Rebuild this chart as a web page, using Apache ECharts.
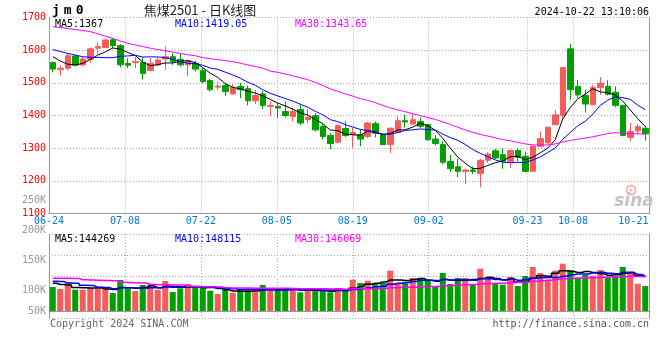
<!DOCTYPE html>
<html><head><meta charset="utf-8">
<script src="https://cdn.jsdelivr.net/npm/echarts@6/dist/echarts.min.js"></script>
<style>html,body{margin:0;padding:0;background:#fff}#c{width:660px;height:360px}</style>
</head><body><div id="c"></div><script>
const dates = ['06-24','06-25','06-26','06-27','06-28',
'07-01','07-02','07-03','07-04','07-05','07-08','07-09','07-10','07-11','07-12',
'07-15','07-16','07-17','07-18','07-19','07-22','07-23','07-24','07-25','07-26',
'07-29','07-30','07-31','08-01','08-02','08-05','08-06','08-07','08-08','08-09',
'08-12','08-13','08-14','08-15','08-16','08-19','08-20','08-21','08-22','08-23',
'08-26','08-27','08-28','08-29','08-30','09-02','09-03','09-04','09-05','09-06',
'09-09','09-10','09-11','09-12','09-13','09-18','09-19','09-20',
'09-23','09-24','09-25','09-26','09-27','09-30',
'10-08','10-09','10-10','10-11','10-14','10-15','10-16','10-17','10-18','10-21','10-22'];

const openP = [1562,1540,1545,1582,1555,1572,1606,1608,1632,1614,
1559,1562,1563,1538,1555,1573,1580,1572,1555,1560,
1537,1507,1487,1492,1466,1489,1482,1445,1466,1428,
1428,1412,1397,1418,1387,1399,1366,1339,1318,1360,
1341,1341,1336,1375,1341,1311,1349,1384,1374,1382,
1372,1328,1311,1259,1243,1229,1233,1222,1263,1292,
1280,1260,1293,1275,1229,1306,1316,1372,1400,1604,
1489,1461,1433,1486,1489,1471,1431,1333,1353,1361];
const closeP = [1542,1545,1583,1554,1573,1604,1611,1631,1614,1555,
1554,1565,1529,1560,1570,1580,1565,1555,1568,1542,
1504,1479,1490,1473,1486,1479,1445,1461,1431,1431,
1423,1400,1412,1377,1394,1356,1336,1314,1369,1339,
1348,1328,1377,1346,1311,1361,1384,1380,1387,1367,
1326,1314,1257,1237,1229,1233,1229,1263,1282,1270,
1260,1293,1272,1229,1306,1329,1364,1402,1547,1479,
1463,1435,1486,1499,1465,1431,1339,1351,1366,1344];
const lowP = [1532,1522,1538,1553,1550,1560,1588,1606,1606,1547,
1545,1545,1510,1535,1550,1540,1555,1550,1520,1535,
1499,1474,1478,1460,1465,1453,1431,1435,1420,1399,
1392,1394,1382,1370,1377,1351,1326,1297,1315,1334,
1302,1306,1331,1333,1309,1285,1346,1363,1372,1362,
1323,1308,1250,1227,1211,1190,1221,1180,1255,1267,
1237,1239,1260,1226,1227,1303,1314,1370,1392,1448,
1453,1409,1433,1463,1461,1425,1336,1321,1341,1323];
const highP = [1565,1553,1590,1585,1580,1608,1623,1634,1636,1618,
1575,1580,1578,1577,1578,1612,1590,1590,1572,1568,
1545,1512,1504,1499,1496,1499,1491,1479,1475,1443,
1438,1443,1423,1433,1420,1407,1374,1346,1374,1382,
1362,1356,1380,1382,1346,1364,1397,1402,1407,1394,
1374,1341,1321,1280,1268,1237,1244,1267,1287,1298,
1300,1295,1300,1290,1308,1351,1367,1417,1547,1619,
1509,1479,1494,1518,1508,1489,1433,1377,1374,1367];

const volume = [102000,93500,119000,90500,90500,97800,93500,97800,76500,131800,
94800,85000,110500,113500,90500,127500,80800,96500,114800,102000,
100700,86300,72300,89300,77800,93500,88000,83700,110500,93500,
90500,90500,88000,79500,93500,83700,83700,79500,97800,89300,
133000,119000,128800,119000,119000,171300,119000,119000,140300,140300,
133000,102000,161500,114800,140300,140300,114800,179800,140300,114800,
111800,144500,106300,148800,187000,161500,133000,171300,201000,174000,
140300,153000,150000,174000,143000,148800,187000,167000,116000,106300];

// Moving-average values before enough bars exist in the window
const ma5Head = [1580,1567,1557,1555];
const ma10Head = [1602,1596,1590,1585,1580,1578,1578,1577,1577];
const ma30Head = [1672,1669,1666,1663,1660,1657,1650,1643,1636,1628,1621,1616,1611,1606,1602,1598,1594,1590,1586,1583,1577,1574,1571,1568,1565,1560,1555,1550,1545];
const volMa5Head = [118000,113000,110000,100000];
const volMa10Head = [126000,125000,119000,118000,109000,108000,101000,100000,95000];
const volMa30Head = [139000,139000,139000,138000,133000,132000,131000,130000,129000,122000,121000,120000,119000,113000,112000,112000,111000,110000,105000,104000,103000,103000,102000,99000,98000,98000,98000,97000,97000];

const priceTicks = {min:1100, max:1700, step:100};
const labelDates = ['06-24','07-08','07-22','08-05','08-19','09-02','09-23','10-08','10-21'];
const gridDates = ['07-08','07-22','08-05','08-19','09-02','09-23','10-08'];
const volTickLabels = ['250K','200K','150K','100K','50K'];
const priceMaLabels = ['MA5:1367','MA10:1419.05','MA30:1343.65'];
const volMaLabels = ['MA5:144269','MA10:148115','MA30:146069'];
const titleText = '焦煤2501 - 日K线图';
const codeText = 'jm0';
const timeText = '2024-10-22 13:10:06';

function movingAvg(src, n, head){
  return src.map((v,i)=>{
    if(i < n-1) return head[i];
    let s=0; for(let k=i-n+1;k<=i;k++) s+=src[k];
    return +(s/n).toFixed(2);
  });
}

const UP='#f65c5c', DOWN='#00a000';
const MONO='"DejaVu Sans Mono", monospace';
const dotted={color:'#aaaaaa', type:[1,2], width:1};

const candles = dates.map((d,i)=>[openP[i],closeP[i],lowP[i],highP[i]]);
const volBars = volume.map((v,i)=>({value:v, itemStyle:{color: closeP[i]>=openP[i]?UP:DOWN}}));

function txt(x,y,text,fill,align,font){
  return {type:'text', x:x, y:y, silent:true, z:100,
    style:{text:text, fill:fill, font:font||('10px '+MONO), align:align||'left', verticalAlign:'middle',
      textAlign:align||'left', textVerticalAlign:'middle'}};
}
const volLabelY=[200,230,260,290,311];
const graphics = [
  {type:'text', x:50, y:11, silent:true, style:{text:codeText.split('').map(c=>'{a|'+c+'}').join(''),
    rich:{a:{font:'bold 13px '+MONO, fill:'#000', padding:[0,2,0,2]}}, verticalAlign:'middle', textVerticalAlign:'middle'}},
  txt(200,10,titleText,'#222','center','13px "Noto Sans CJK SC"'),
  txt(649,12,timeText,'#000','right'),
  txt(55,24.5,priceMaLabels[0],'#000'),
  txt(175,24.5,priceMaLabels[1],'#0000ff'),
  txt(295,24.5,priceMaLabels[2],'#ff00ff'),
  txt(55,239,volMaLabels[0],'#000'),
  txt(175,239,volMaLabels[1],'#0000ff'),
  txt(295,239,volMaLabels[2],'#ff00ff'),
  txt(50,324,'Copyright 2024 SINA.COM','#666'),
  txt(649,324,'http://finance.sina.com.cn','#555','right'),
  {type:'circle', shape:{cx:631, cy:190, r:4.5}, silent:true, style:{fill:'none', stroke:'#f3b4b4', lineWidth:2}},
  {type:'circle', shape:{cx:631, cy:190, r:1.5}, silent:true, style:{fill:'#f3b4b4'}},
  txt(634,202,'sina','#c4c4c4','center','italic bold 17px "DejaVu Sans"')
].concat(volTickLabels.map((t,i)=>txt(46,volLabelY[i],t,'#999','right')));

// date-guide axes: dates spread edge to edge (no boundary gap), as the original's guides are
const guideSplit = {show:true, interval:(i,v)=>gridDates.indexOf(v)>=0, lineStyle:dotted};

const chart = echarts.init(document.getElementById('c'));
chart.setOption({
  animation:false,
  backgroundColor:'#fff',
  grid:[{left:49, top:17.5, width:600, height:196},
        {left:49, top:234, width:600, height:84}],
  xAxis:[
    {type:'category', gridIndex:0, position:'bottom', data:dates, boundaryGap:true,
     axisLine:{lineStyle:{color:'#999'}}, axisTick:{show:false}, splitLine:{show:false}, axisLabel:{show:false}},
    {type:'category', gridIndex:1, position:'bottom', data:dates, boundaryGap:true,
     axisLine:{lineStyle:{color:'#999'}}, axisTick:{show:false}, axisLabel:{show:false}, splitLine:{show:false}},
    {type:'category', gridIndex:0, position:'bottom', data:dates, boundaryGap:false,
     axisLine:{show:false}, axisTick:{show:false}, splitLine:guideSplit,
     axisLabel:{interval:(i,v)=>labelDates.indexOf(v)>=0, color:'#0078d7', fontSize:10, fontFamily:MONO, margin:3, hideOverlap:false,
       formatter:v=> v===labelDates[labelDates.length-1] ? '{r|'+v+'}' : v,
       rich:{r:{color:'#0078d7', fontSize:10, fontFamily:MONO, padding:[0,16,0,0]}}}},
    {type:'category', gridIndex:1, position:'bottom', data:dates, boundaryGap:false,
     axisLine:{show:false}, axisTick:{show:false}, axisLabel:{show:false}, splitLine:guideSplit}
  ],
  yAxis:[
    {type:'value', gridIndex:0, position:'left', min:priceTicks.min, max:priceTicks.max, interval:priceTicks.step,
     axisLine:{show:true, lineStyle:{color:'#999'}}, axisTick:{show:false},
     axisLabel:{color:'#ff0000', fontSize:10, fontFamily:MONO, margin:3, formatter:v=>String(v)},
     splitLine:{show:true, lineStyle:dotted}},
    {type:'value', gridIndex:0, position:'right', min:0, max:1,
     axisLine:{show:true, lineStyle:{color:'#999'}}, axisTick:{show:false}, axisLabel:{show:false}, splitLine:{show:false}},
    {type:'value', gridIndex:1, position:'left', min:-29750, max:327250,
     axisLine:{show:true, lineStyle:{color:'#999'}}, axisTick:{show:false}, axisLabel:{show:false}, splitLine:{show:false}},
    {type:'value', gridIndex:1, position:'right', min:0, max:4, interval:1,
     axisLine:{show:true, lineStyle:{color:'#999'}}, axisTick:{show:false}, axisLabel:{show:false},
     splitLine:{show:true, lineStyle:dotted}}
  ],
  series:[
    {type:'candlestick', xAxisIndex:0, yAxisIndex:0, data:candles, barWidth:6,
     itemStyle:{color:UP, color0:DOWN, borderColor:UP, borderColor0:DOWN, borderWidth:1}},
    {type:'line', xAxisIndex:0, yAxisIndex:0, data:movingAvg(closeP,5,ma5Head), symbol:'none', lineStyle:{color:'#000', width:1}},
    {type:'line', xAxisIndex:0, yAxisIndex:0, data:movingAvg(closeP,10,ma10Head), symbol:'none', lineStyle:{color:'#0000ff', width:1}},
    {type:'line', xAxisIndex:0, yAxisIndex:0, data:movingAvg(closeP,30,ma30Head), symbol:'none', lineStyle:{color:'#ff00ff', width:1}},
    {type:'bar', xAxisIndex:1, yAxisIndex:2, data:volBars, barWidth:6},
    {type:'line', xAxisIndex:1, yAxisIndex:2, data:movingAvg(volume,5,volMa5Head), step:'middle', symbol:'none', lineStyle:{color:'#000', width:1.5}},
    {type:'line', xAxisIndex:1, yAxisIndex:2, data:movingAvg(volume,10,volMa10Head), step:'middle', symbol:'none', lineStyle:{color:'#0000ff', width:1.5}},
    {type:'line', xAxisIndex:1, yAxisIndex:2, data:movingAvg(volume,30,volMa30Head), step:'middle', symbol:'none', lineStyle:{color:'#ff00ff', width:1.5}}
  ],
  graphic:graphics
});
</script></body></html>
